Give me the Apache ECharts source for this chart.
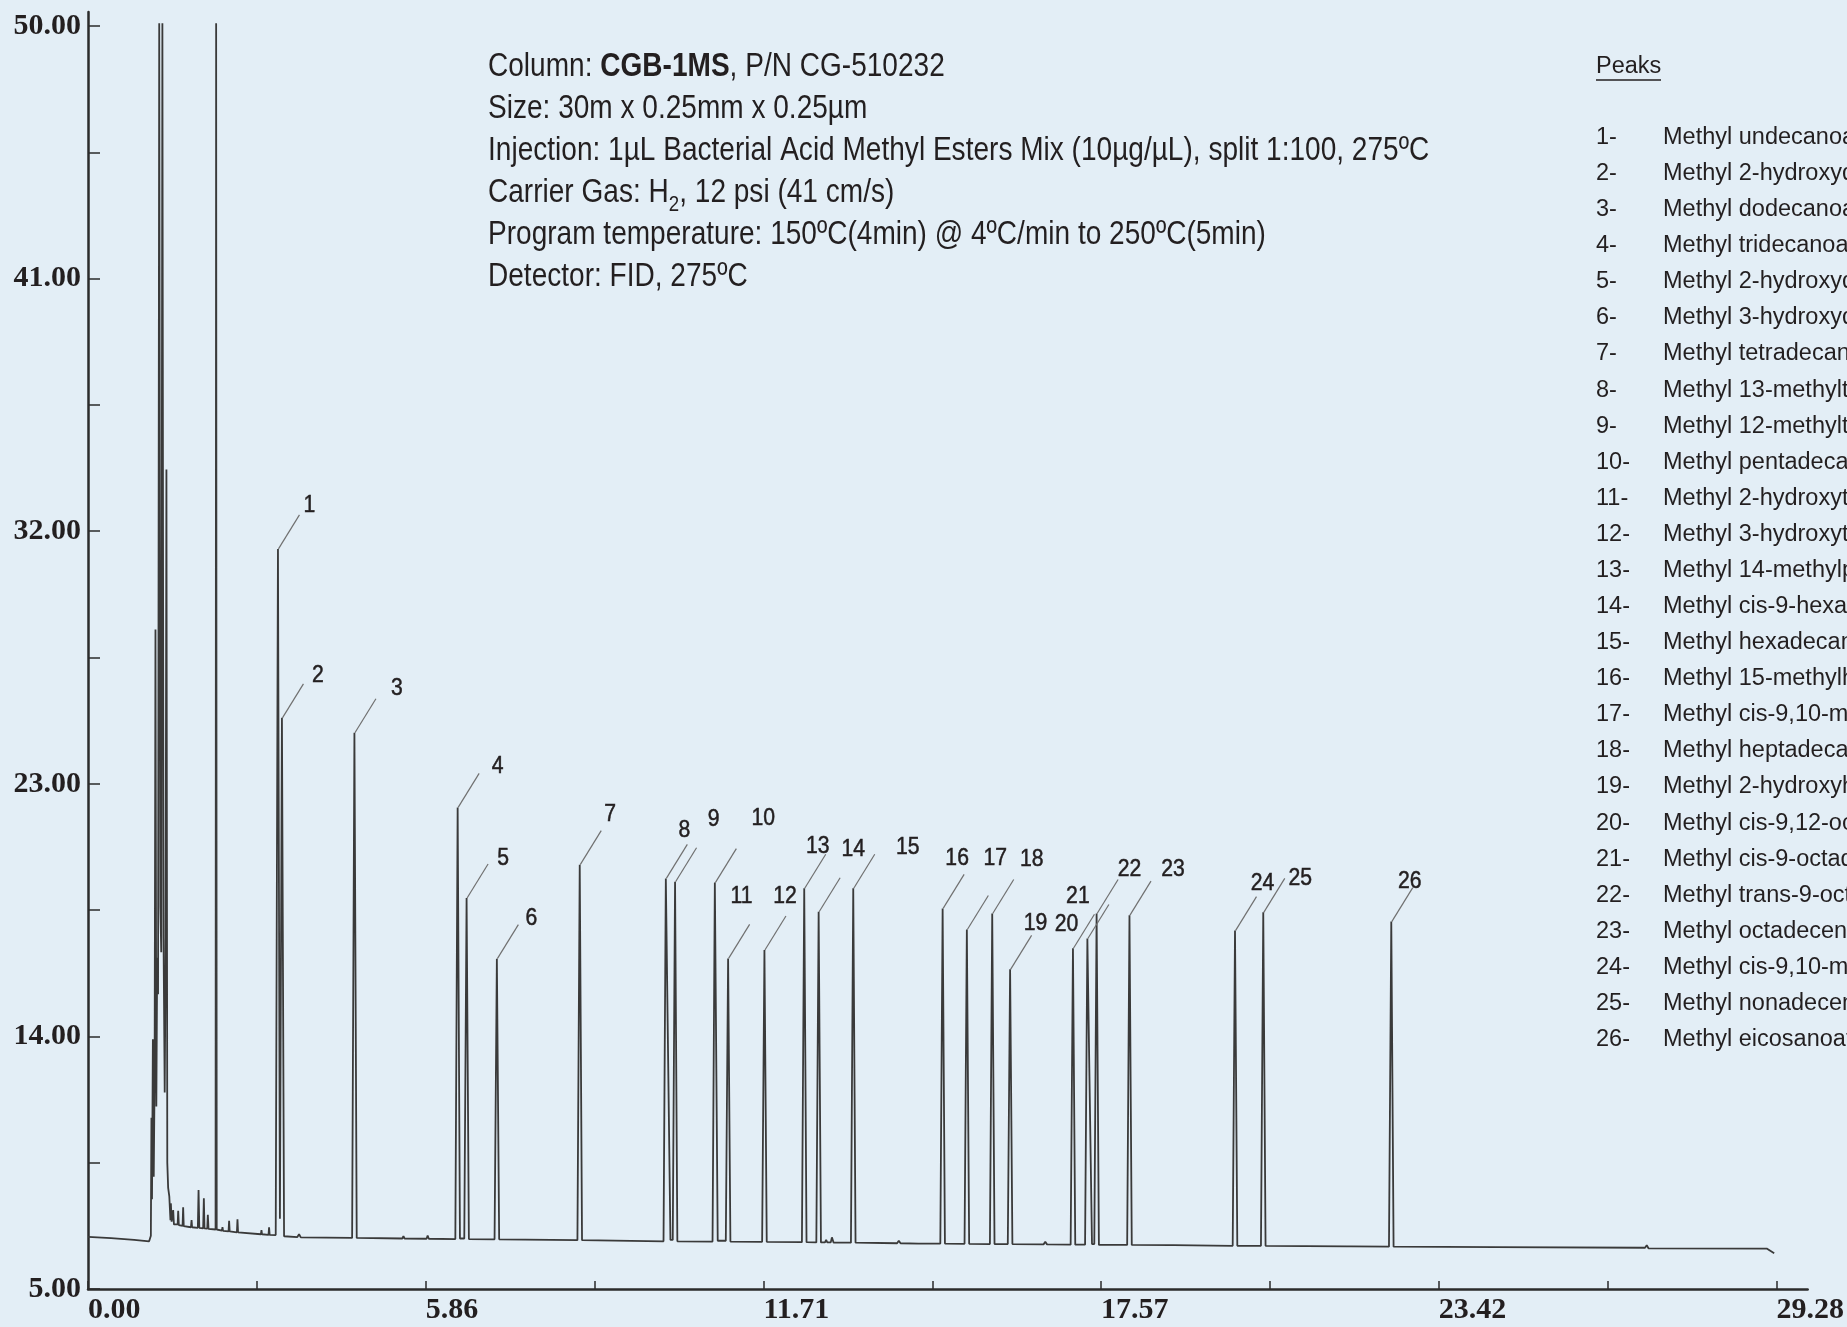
<!DOCTYPE html>
<html><head><meta charset="utf-8">
<script src="https://cdn.jsdelivr.net/npm/echarts@6/dist/echarts.min.js"></script>
<style>html,body{margin:0;padding:0;background:#e3eef6}#c{width:1847px;height:1327px}</style>
</head><body><div id="c"></div>
<script>
// ---- tick labels ----
const xLabelValues = [0, 5.856, 11.712, 17.568, 23.424, 29.28];
const xTickValues = [0, 2.928, 5.856, 8.784, 11.712, 14.64, 17.568, 20.496, 23.424, 26.352, 29.28];
const yLabelValues = [5, 14, 23, 32, 41, 50];
const yTickValues = [5, 9.5, 14, 18.5, 23, 27.5, 32, 36.5, 41, 45.5, 50];

// ---- labelled peaks ----
const peakNumbers = [1,2,3,4,5,6,7,8,9,10,11,12,13,14,15,16,17,18,19,20,21,22,23,24,25,26];
const peakTimes = [3.294,3.363,4.62,6.41,6.565,7.09,8.527,10.02,10.18,10.87,11.10,11.73,12.42,12.67,13.27,14.82,15.24,15.68,15.99,17.08,17.33,17.49,18.06,19.89,20.38,22.60];
const peakHeights = [31.37,25.35,24.82,22.16,18.93,16.77,20.12,19.63,19.51,19.48,16.78,17.08,19.28,18.44,19.28,18.56,17.81,18.38,16.39,17.14,17.49,18.38,18.32,17.77,18.42,18.09];
const peakNames = [
 'Methyl undecanoate','Methyl 2-hydroxydecanoate','Methyl dodecanoate','Methyl tridecanoate',
 'Methyl 2-hydroxydodecanoate','Methyl 3-hydroxydodecanoate','Methyl tetradecanoate',
 'Methyl 13-methyltetradecanoate','Methyl 12-methyltetradecanoate','Methyl pentadecanoate',
 'Methyl 2-hydroxytetradecanoate','Methyl 3-hydroxytetradecanoate','Methyl 14-methylpentadecanoate',
 'Methyl cis-9-hexadecenoate','Methyl hexadecanoate','Methyl 15-methylhexadecanoate',
 'Methyl cis-9,10-methylenehexadecanoate','Methyl heptadecanoate','Methyl 2-hydroxyhexadecanoate',
 'Methyl cis-9,12-octadecadienoate','Methyl cis-9-octadecenoate','Methyl trans-9-octadecenoate',
 'Methyl octadecenoate','Methyl cis-9,10-methyleneoctadecanoate','Methyl nonadecenoate','Methyl eicosanoate'
];

// ---- detector trace [time (min), signal] ----
const trace = [
 [0.00,6.86],[0.40,6.81],[0.80,6.75],[1.06,6.70],
 [1.09,6.9],[1.10,11.1],[1.11,8.2],[1.125,13.9],[1.14,9.0],[1.155,12.5],[1.17,28.5],[1.185,11.5],
 [1.20,16.8],[1.215,15.5],[1.235,50.1],[1.255,18.6],[1.27,17.0],[1.29,50.1],[1.31,17.5],[1.33,12.0],
 [1.345,16.5],[1.36,34.2],[1.375,9.5],[1.39,8.6],[1.41,8.3],
 [1.43,7.45],[1.437,8.05],[1.45,7.4],[1.47,7.35],[1.477,7.81],[1.49,7.3],[1.555,7.3],[1.564,7.79],
 [1.575,7.28],[1.64,7.25],[1.65,7.91],[1.66,7.24],[1.785,7.2],[1.796,7.46],[1.805,7.2],[1.905,7.18],
 [1.917,8.53],[1.93,7.18],[1.997,7.16],[2.009,8.23],[2.02,7.16],[2.068,7.15],[2.078,7.64],[2.09,7.14],
 [2.212,7.12],[2.222,50.1],[2.232,7.12],
 [2.322,7.08],[2.332,7.2],[2.342,7.07],[2.437,7.05],[2.447,7.43],[2.457,7.05],[2.582,7.02],[2.592,7.48],
 [2.602,7.02],[2.998,6.95],[3.008,7.1],[3.018,6.95],[3.13,6.93],[3.14,7.2],[3.15,6.93],
 [3.255,6.92],[3.294,31.37],[3.328,7.5],[3.363,25.35],[3.40,6.88],
 [3.63,6.85],[3.66,6.95],[3.69,6.84],
 [4.58,6.82],[4.62,24.82],[4.66,6.82],
 [5.45,6.8],[5.47,6.88],[5.49,6.8],[5.87,6.79],[5.89,6.9],[5.91,6.79],
 [6.37,6.78],[6.41,22.16],[6.45,6.8],[6.525,6.8],[6.565,18.93],[6.605,6.78],
 [7.05,6.77],[7.09,16.77],[7.13,6.77],
 [8.487,6.74],[8.527,20.12],[8.567,6.74],
 [9.98,6.7],[10.02,19.63],[10.10,6.75],[10.14,6.75],[10.18,19.51],[10.22,6.7],
 [10.83,6.69],[10.87,19.48],[10.92,6.72],[11.06,6.72],[11.10,16.78],[11.14,6.69],
 [11.69,6.68],[11.73,17.08],[11.77,6.68],
 [12.38,6.67],[12.42,19.28],[12.46,6.67],[12.63,6.66],[12.67,18.44],[12.71,6.66],[12.78,6.66],
 [12.80,6.75],[12.82,6.66],[12.88,6.66],[12.90,6.84],[12.93,6.65],
 [13.23,6.65],[13.27,19.28],[13.31,6.65],
 [14.03,6.63],[14.06,6.72],[14.09,6.63],[14.40,6.62],[14.42,6.68],[14.44,6.62],
 [14.78,6.62],[14.82,18.56],[14.86,6.62],[15.20,6.61],[15.24,17.81],[15.28,6.61],
 [15.64,6.6],[15.68,18.38],[15.72,6.6],[15.95,6.6],[15.99,16.39],[16.03,6.6],
 [16.57,6.59],[16.60,6.68],[16.63,6.59],
 [17.04,6.58],[17.08,17.14],[17.12,6.58],[17.29,6.58],[17.33,17.49],[17.41,6.6],[17.45,6.6],
 [17.49,18.38],[17.53,6.57],
 [18.02,6.57],[18.06,18.32],[18.10,6.57],
 [18.77,6.56],[18.80,6.62],[18.83,6.56],
 [19.85,6.54],[19.89,17.77],[19.93,6.54],[20.34,6.54],[20.38,18.42],[20.42,6.54],
 [21.83,6.52],[21.86,6.58],[21.89,6.52],
 [22.56,6.51],[22.60,18.09],[22.64,6.51],
 [24.4,6.49],[27.0,6.47],[27.03,6.56],[27.06,6.45],[29.11,6.44],[29.24,6.27]
];

// ---- header text ----
const infoLines = [
 '{r|Column: }{b|CGB-1MS}{r|, P/N CG-510232}',
 '{r|Size: 30m x 0.25mm x 0.25µm}',
 '{r|Injection: 1µL Bacterial Acid Methyl Esters Mix (10µg/µL), split 1:100, 275ºC}',
 '{r|Carrier Gas: H}{s|2}{r|, 12 psi (41 cm/s)}',
 '{r|Program temperature: 150ºC(4min) @ 4ºC/min to 250ºC(5min)}',
 '{r|Detector: FID, 275ºC}'
];

// ---- layout / style (not data) ----
const leader = [21.5, -34];
const labelShift = [[10,-9],[14.5,-8],[21,-10],[18.5,-6.5],[15,-5],[13,-6],[9,-16],[-3,-14],[17,-28],[27,-30],
 [-8,-28],[-1,-19],[-8,-8],[13,-28],[33,-7],[-7,-16],[7,-37],[18,-20],[4,-12],[-28,10],[-31,-8],[11.5,-10],
 [22,-12],[6,-13],[15.5,0.5],[-3,-6]];
const sans = '"Liberation Sans", Arial, Helvetica, sans-serif';
const serif = '"Liberation Serif", "Times New Roman", serif';
const ink = '#231f20';

const peakData = peakTimes.map((t, i) => [t, peakHeights[i], peakNumbers[i]]);

function renderPeakLabel(params, api) {
  const i = params.dataIndex;
  const p = api.coord([api.value(0), api.value(1)]);
  const ex = p[0] + leader[0], ey = p[1] + leader[1];
  const s = labelShift[i];
  return {type: 'group', children: [
    {type: 'line', shape: {x1: p[0] + 0.5, y1: p[1], x2: ex, y2: ey}, style: {stroke: '#707070', lineWidth: 1.2}},
    {type: 'text', x: ex + s[0], y: ey + s[1], scaleX: 0.92,
     style: {text: String(api.value(2)), fill: ink, stroke: ink, lineWidth: 0.5, font: '23px ' + sans, align: 'center', verticalAlign: 'middle'}}
  ]};
}

const graphic = [];
infoLines.forEach((txt, i) => {
  graphic.push({type: 'text', x: 488, y: 67 + i * 42, scaleX: 0.85,
    style: {text: txt, align: 'left', verticalAlign: 'middle', fill: ink,
      rich: {
        r: {fontSize: 33, fontFamily: sans, fill: ink, lineHeight: 40},
        b: {fontSize: 33, fontFamily: sans, fontWeight: 'bold', fill: ink, lineHeight: 40},
        s: {fontSize: 22, fontFamily: sans, fill: ink, lineHeight: 46, verticalAlign: 'bottom'}
      }}});
});
graphic.push({type: 'text', x: 1596, y: 67, style: {text: 'Peaks', font: '23.5px ' + sans, fill: ink, align: 'left', verticalAlign: 'middle'}});
graphic.push({type: 'line', shape: {x1: 1596, y1: 80, x2: 1661, y2: 80}, style: {stroke: ink, lineWidth: 1.4}});
peakNames.forEach((name, i) => {
  const y = 137.5 + i * 36.08;
  graphic.push({type: 'text', x: 1596, y: y, style: {text: peakNumbers[i] + '-', font: '23.5px ' + sans, fill: ink, align: 'left', verticalAlign: 'middle'}});
  graphic.push({type: 'text', x: 1663, y: y, style: {text: name, font: '23.5px ' + sans, fill: ink, align: 'left', verticalAlign: 'middle'}});
});

const chart = echarts.init(document.getElementById('c'), null, {renderer: 'canvas', width: 1847, height: 1327});
chart.setOption({
  backgroundColor: '#e3eef6',
  animation: false,
  grid: {left: 88, right: 37, top: 12, bottom: 38, containLabel: false},
  xAxis: {
    type: 'value', min: 0, max: 29.82,
    axisLine: {show: true, onZero: false, lineStyle: {color: '#2b2b2b', width: 2.5}},
    axisTick: {show: true, inside: true, length: 8, customValues: xTickValues, lineStyle: {color: '#2b2b2b', width: 1.5}},
    axisLabel: {show: true, customValues: xLabelValues, formatter: v => v.toFixed(2), align: 'left', margin: 6,
      fontFamily: serif, fontWeight: 'bold', fontSize: 30, color: ink},
    splitLine: {show: false}
  },
  yAxis: {
    type: 'value', min: 5, max: 50.5,
    axisLine: {show: true, onZero: false, lineStyle: {color: '#2b2b2b', width: 2.5}},
    axisTick: {show: true, inside: true, length: 12, customValues: yTickValues, lineStyle: {color: '#2b2b2b', width: 1.5}},
    axisLabel: {show: true, customValues: yLabelValues, formatter: v => v.toFixed(2), margin: 7,
      fontFamily: serif, fontWeight: 'bold', fontSize: 30, color: ink},
    splitLine: {show: false}
  },
  series: [
    {type: 'line', data: trace, symbol: 'none', showSymbol: false, smooth: false, sampling: null,
     lineStyle: {color: '#3a3a3a', width: 1.8}, clip: true, z: 2},
    {type: 'custom', data: peakData, renderItem: renderPeakLabel, encode: {x: 0, y: 1}, clip: false, z: 3, silent: true}
  ],
  graphic: graphic
});
</script>
</body></html>
